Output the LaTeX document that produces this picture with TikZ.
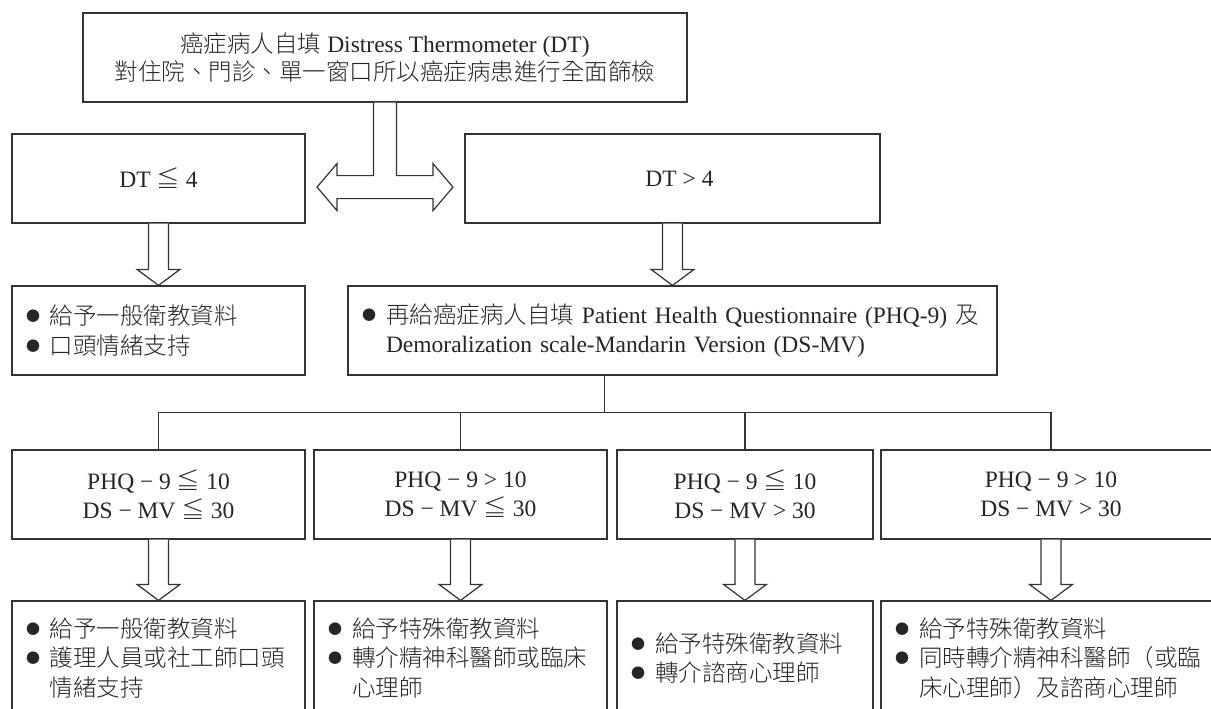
\documentclass[tikz,border=0pt]{standalone}
\usepackage{fontspec}
\setmainfont{Liberation Serif}
\newfontfamily\cjk{Noto Sans CJK TC Light}
\usetikzlibrary{calc}
\newcommand\zh[1]{{\cjk #1}}
\newcommand\bul{\makebox[24pt][l]{\raisebox{3pt}{\fontsize{14}{14}\cjk ●}}}
\newcommand\li[1]{\mbox{\bul#1}}
\newcommand\hang[1]{\mbox{\hspace*{24pt}#1}}
\newcommand\blockdown[2]{\draw[hollow] ($(#1.south)+(-10,0)$) -- ($(#2.north)+(-10,16)$) -- ++(-11.5,0) -- (#2.north) -- ++(21.5,16) -- ++(-11.5,0) -- ($(#1.south)+(10,0)$);}
\begin{document}
\begin{tikzpicture}[x=1pt,y=1pt,font=\fontsize{23.5}{29.5}\selectfont,text=black!85,
  box/.style={draw=black!80,line width=1.2pt,minimum height=89pt,inner sep=0pt,align=center},
  list/.style={box,align=left,inner xsep=14pt,text width=#1},
  hollow/.style={draw=black!80,line width=1.2pt,fill=white},
  link/.style={draw=black!80,line width=1.2pt}]
\def\W{1211}\def\H{709}
\useasboundingbox (0,0) rectangle (\W,-\H);
% screening
\node[box,minimum width=604pt] (top) at (385,-57.5) {\zh{癌症病人自填} Distress Thermometer (DT)\\[-1pt] \zh{對住院、門診、單一窗口所以癌症病患進行全面篩檢}};
\node[box,minimum width=293pt] (dtlow) at (158.5,-178.5) {DT \zh{≦} 4};
\node[box,minimum width=415pt] (dthigh) at (672.5,-178.5) {\hspace*{14pt}DT > 4};
\draw[hollow] ($(top.south)+(-11.5,0)$) -- ++(0,-73) -- ++(-36.5,0) -- ++(0,12) -- ++(-20,-23.5) -- ++(20,-23.5) -- ++(0,12) -- ++(96,0) -- ++(0,-12) -- ++(20,23.5) -- ++(-20,23.5) -- ++(0,-12) -- ++(-36.5,0) -- ($(top.south)+(11.5,0)$);
% second level
\node[list=265pt] (advice) at (158.5,-330.5) {\li{\zh{給予一般衛教資料}}\\ \li{\zh{口頭情緒支持}}};
\node[list=621pt] (phq) at (672.5,-330.5) {\li{\zh{再給癌症病人自填} Patient Health Questionnaire (PHQ-9) \zh{及}}\\ \hang{Demoralization scale-Mandarin Version (DS-MV)}};
\blockdown{dtlow}{advice}
\blockdown{dthigh}{phq}
% PHQ-9 / DS-MV groups
\node[box,minimum width=293pt] (c1) at (158.5,-494.5) {PHQ − 9 \zh{≦} 10\\DS − MV \zh{≦} 30};
\node[box,minimum width=293pt] (c2) at (460.5,-494.5) {PHQ − 9 > 10\\DS − MV \zh{≦} 30};
\node[box,minimum width=256pt] (c3) at (745,-494.5) {PHQ − 9 \zh{≦} 10\\DS − MV > 30};
\node[box,minimum width=340pt] (c4) at (1051,-494.5) {PHQ − 9 > 10\\DS − MV > 30};
\coordinate (split) at ($(c1.north)!0.5!(c4.north)+(0,37)$);
\draw[link] (phq.south -| split) -- (split);
\draw[link] (c1.north) |- (c4.north |- split) -- (c4.north);
\foreach \n in {c2,c3} \draw[link] (\n.north) -- (\n.north |- split);
% care
\node[list=265pt,minimum height=114pt] (d1) at (158.5,-658) {\li{\zh{給予一般衛教資料}}\\ \li{\zh{護理人員或社工師口頭}}\\ \hang{\zh{情緒支持}}};
\node[list=265pt,minimum height=114pt] (d2) at (460.5,-658) {\li{\zh{給予特殊衛教資料}}\\ \li{\zh{轉介精神科醫師或臨床}}\\ \hang{\zh{心理師}}};
\node[list=228pt,minimum height=114pt] (d3) at (745,-658) {\li{\zh{給予特殊衛教資料}}\\ \li{\zh{轉介諮商心理師}}};
\node[list=312pt,minimum height=114pt] (d4) at (1051,-658) {\li{\zh{給予特殊衛教資料}}\\ \li{\zh{同時轉介精神科醫師（或臨}}\\ \hang{\zh{床心理師）及諮商心理師}}};
\foreach \n in {1,...,4} {\blockdown{c\n}{d\n}}
\end{tikzpicture}
\end{document}
